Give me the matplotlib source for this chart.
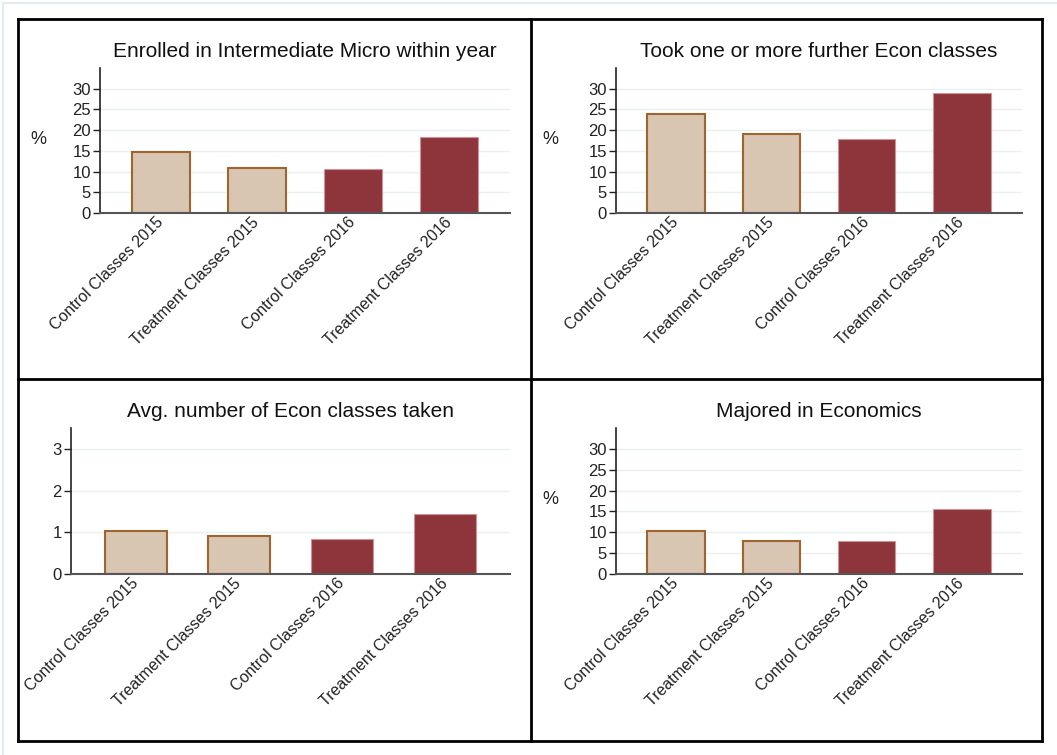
import matplotlib
matplotlib.use("Agg")
import matplotlib.pyplot as plt
from matplotlib.lines import Line2D

plt.rcParams['font.family'] = ['Liberation Sans', 'DejaVu Sans']

groups = ['Control Classes 2015', 'Treatment Classes 2015',
          'Control Classes 2016', 'Treatment Classes 2016']
enrolled_micro = [14.7, 10.8, 10.7, 18.4]
further_econ = [23.8, 19.0, 17.8, 28.9]
avg_econ = [1.04, 0.91, 0.84, 1.43]
majored_econ = [10.3, 8.0, 7.8, 15.6]

titles = ['Enrolled in Intermediate Micro within year',
          'Took one or more further Econ classes',
          'Avg. number of Econ classes taken',
          'Majored in Economics']

W, H = 1057, 755
light_fill = '#d8c5b2'
light_edge = '#a0652f'
dark_fill = '#8e353c'
dark_edge = '#c99397'


def rect(x0, y0, x1, y1):
    return [x0 / W, 1 - y1 / H, (x1 - x0) / W, (y1 - y0) / H]


fig = plt.figure(figsize=(W / 100, H / 100), dpi=100)

# panel frames
frame_kw = dict(color='black', lw=2.0, transform=fig.transFigure)
for xs, ys in [([18, 1042], [19, 19]), ([18, 1042], [741, 741]),
               ([18, 18], [19, 741]), ([1042, 1042], [19, 741]),
               ([531, 531], [19, 741]), ([18, 1042], [379, 379])]:
    fig.add_artist(Line2D([x / W for x in xs], [1 - y / H for y in ys], **frame_kw))
# faint outer border
for xs, ys in [([3, W], [3, 3]), ([3, 3], [3, H])]:
    fig.add_artist(Line2D([x / W for x in xs], [1 - y / H for y in ys],
                          color='#e4ecf0', lw=1.5, transform=fig.transFigure))

panels = [
    (rect(100, 68, 510, 213), enrolled_micro, 35, range(0, 31, 5), (38, 139)),
    (rect(616, 68, 1022, 213), further_econ, 35, range(0, 31, 5), (550, 139)),
    (rect(71, 428, 510, 574), avg_econ, 3.5, range(0, 4), None),
    (rect(616, 428, 1022, 574), majored_econ, 35, range(0, 31, 5), (550, 500)),
]

for (pos, vals, ymax, ticks, pct), title in zip(panels, titles):
    ax = fig.add_axes(pos)
    x = range(len(groups))
    bars = ax.bar(x, vals, width=0.6, zorder=3)
    for i, b in enumerate(bars):
        if i < 2:
            b.set_facecolor(light_fill)
            b.set_edgecolor(light_edge)
            b.set_linewidth(1.5)
        else:
            b.set_facecolor(dark_fill)
            b.set_edgecolor(dark_edge)
            b.set_linewidth(0.8)
    # darker base line under the 2015 bars
    ax.bar(list(x)[:2], [ymax * 0.006] * 2, width=0.6, color='#6e3510', zorder=3.5)
    ax.set_xlim(-0.63, 3.63)
    ax.set_ylim(0, ymax)
    ax.set_yticks(list(ticks))
    for t in list(ticks)[1:]:
        ax.axhline(t, color='#e9f0f3', lw=1, zorder=1)
    ax.spines['top'].set_visible(False)
    ax.spines['right'].set_visible(False)
    ax.spines['left'].set_color('#222222')
    ax.spines['bottom'].set_color('#555555')
    ax.spines['left'].set_linewidth(1.2)
    ax.spines['bottom'].set_linewidth(1.5)
    ax.spines['bottom'].set_zorder(4)
    ax.tick_params(axis='y', length=5, width=1, color='#222222',
                   labelsize=12, labelcolor='#222222', pad=1.5)
    ax.tick_params(axis='x', length=0, pad=5)
    ax.set_xticks(list(x))
    ax.set_xticklabels(groups, rotation=45, ha='right', va='center',
                       rotation_mode='anchor', fontsize=11.5, color='#222222')
    ax.set_title(title, fontsize=15, color='#111111', pad=8)
    if pct is not None:
        fig.text(pct[0] / W, 1 - pct[1] / H, '%', fontsize=13,
                 ha='center', va='center', color='#222222')

fig.savefig('out.png', dpi=100, facecolor='white')
